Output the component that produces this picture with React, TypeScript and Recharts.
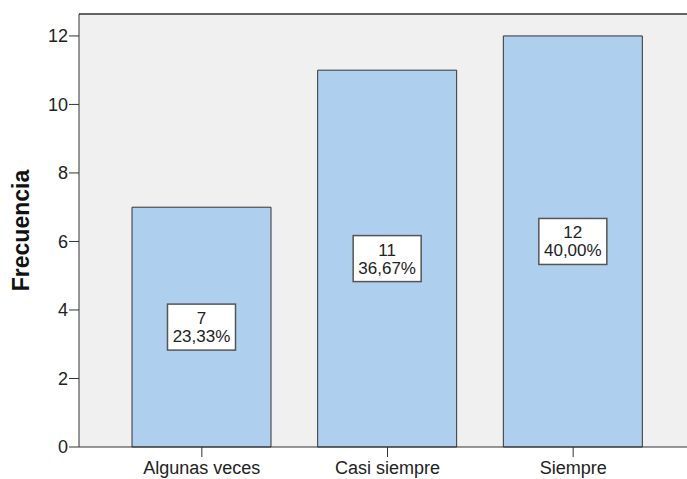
import { BarChart, Bar, XAxis, YAxis, CartesianGrid, ReferenceLine, LabelList, Label } from 'recharts'

const categories = ['Algunas veces', 'Casi siempre', 'Siempre']
const counts = [7, 11, 12]
const percents = ['23,33%', '36,67%', '40,00%']
const yTicks = [0, 2, 4, 6, 8, 10, 12]

const Y_MAX = 12.64
const FONT = '"Liberation Sans", Arial, sans-serif'

const chartData = categories.map((name, i) => ({
  name,
  count: counts[i],
  pct: percents[i],
}))

// white box with count + percent, centred in the bar
function BoxLabel(props: any) {
  const { x, y, width, height, index } = props
  const cx = x + width / 2
  const cy = y + height / 2
  const w = 68
  const h = 46
  return (
    <g>
      <rect x={cx - w / 2} y={cy - h / 2} width={w} height={h} fill="#ffffff" stroke="#555555" strokeWidth={1.5} />
      <text textAnchor="middle" fontSize={17} fontFamily={FONT} fill="#222">
        <tspan x={cx} y={cy - 3}>{counts[index]}</tspan>
        <tspan x={cx} dy={18}>{percents[index]}</tspan>
      </text>
    </g>
  )
}

export default function App() {
  return (
    <div style={{ position: 'absolute', left: 0, top: 0, background: '#fff' }}>
      <BarChart
        width={687}
        height={479}
        data={chartData}
        margin={{ top: 14, right: 0, bottom: 0, left: 0 }}
        barSize={139}
      >
        <CartesianGrid horizontal={false} vertical={false} fill="#f0f0f0" />
        <XAxis
          dataKey="name"
          height={32}
          padding={{ left: 30, right: 21 }}
          stroke="#333"
          tickSize={10}
          tickMargin={4}
          tick={{ fill: '#222', fontSize: 18, fontFamily: FONT }}
        />
        <YAxis
          width={79}
          domain={[0, Y_MAX]}
          ticks={yTicks}
          stroke="#333"
          tickSize={10}
          tickMargin={1}
          tick={{ fill: '#222', fontSize: 18, fontFamily: FONT }}
        >
          <Label
            value="Frecuencia"
            angle={-90}
            position="insideLeft"
            offset={21}
            style={{ fontSize: 23, fontWeight: 'bold', fontFamily: FONT, fill: '#111', textAnchor: 'middle' }}
          />
        </YAxis>
        <ReferenceLine y={Y_MAX} stroke="#333" strokeWidth={1.5} />
        <Bar dataKey="count" fill="#aecfee" stroke="#333" strokeWidth={1} isAnimationActive={false}>
          <LabelList dataKey="count" content={BoxLabel} />
        </Bar>
      </BarChart>
    </div>
  )
}
